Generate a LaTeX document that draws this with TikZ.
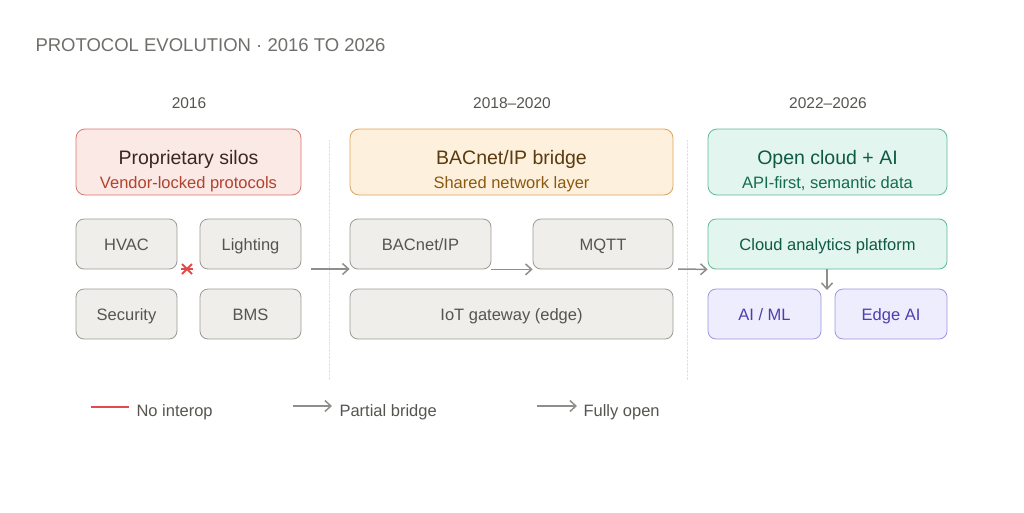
\documentclass[tikz,border=0pt]{standalone}
\usepackage{fontspec}
\setmainfont{Liberation Sans}
\usepackage{tikz}
\usetikzlibrary{positioning, calc, arrows.meta}

\definecolor{silofill}{HTML}{FBE9E6}
\definecolor{siloline}{HTML}{D9776E}
\definecolor{silotext}{HTML}{3B2622}
\definecolor{silosub}{HTML}{B0432E}
\definecolor{bridgefill}{HTML}{FDF0DC}
\definecolor{bridgeline}{HTML}{E0A35A}
\definecolor{bridgetext}{HTML}{5A3A0F}
\definecolor{bridgesub}{HTML}{8B5A12}
\definecolor{openfill}{HTML}{E2F5EE}
\definecolor{openline}{HTML}{5DBB94}
\definecolor{opentext}{HTML}{0E5A44}
\definecolor{opensub}{HTML}{146C50}
\definecolor{grayfill}{HTML}{EFEEEA}
\definecolor{grayline}{HTML}{9A9994}
\definecolor{graytext}{HTML}{555550}
\definecolor{aifill}{HTML}{EEEDFD}
\definecolor{ailine}{HTML}{9C95E0}
\definecolor{aitext}{HTML}{4B3FAF}
\definecolor{arrowgray}{HTML}{8E8E8A}
\definecolor{crossred}{HTML}{E24B4A}

\begin{document}
\begin{tikzpicture}[x=1pt, y=-1pt,
				HeadBox/.style={rectangle, rounded corners=9pt, thick, inner sep=0pt, align=center, minimum height=66pt},
				HeadText/.style={anchor=base, inner sep=0pt},
				PartBox/.style={rectangle, rounded corners=8pt, thick, draw=grayline, fill=grayfill, text=graytext, font=\fontsize{16.5}{20}\selectfont, minimum height=50pt, inner sep=0pt, text height=12pt, text depth=0pt},
				StepArrow/.style={arrowgray, line width=1.5pt, -{Straight Barb[length=6pt, width=11pt]}}]

			\useasboundingbox (0,0) rectangle (1024,512);

			% Title and years
			\node[anchor=west, text=graytext!85, font=\fontsize{18.5}{22}\selectfont] (Title) at (32,45) {PROTOCOL EVOLUTION · 2016 TO 2026};
			\node[text=graytext, font=\fontsize{15.5}{18}\selectfont] (YearA) at (189,103) {2016};
			\node[text=graytext, font=\fontsize{15.5}{18}\selectfont] (YearB) at (512,103) {2018–2020};
			\node[text=graytext, font=\fontsize{15.5}{18}\selectfont] (YearC) at (828,103) {2022–2026};

			% Dividers
			\draw[grayline!30, densely dotted] (329,140) -- (329,380);
			\draw[grayline!30, densely dotted] (687,140) -- (687,380);

			% Headers
			\node[HeadBox, draw=siloline, fill=silofill, minimum width=225pt] (Silos) at (188.5,162) {};
			\node[HeadBox, draw=bridgeline, fill=bridgefill, minimum width=323pt] (Bridge) at (511.5,162) {};
			\node[HeadBox, draw=openline, fill=openfill, minimum width=239pt] (Open) at (827.5,162) {};
			\node[HeadText, text=silotext, font=\fontsize{19.5}{22}\selectfont] (SilosTitle) at (188.5,164) {Proprietary silos};
			\node[HeadText, text=silosub, font=\fontsize{16.5}{18}\selectfont] (SilosSub) at (188.5,188) {Vendor-locked protocols};
			\node[HeadText, text=bridgetext, font=\fontsize{19.5}{22}\selectfont] (BridgeTitle) at (511.5,164) {BACnet/IP bridge};
			\node[HeadText, text=bridgesub, font=\fontsize{16.5}{18}\selectfont] (BridgeSub) at (511.5,188) {Shared network layer};
			\node[HeadText, text=opentext, font=\fontsize{19.5}{22}\selectfont] (OpenTitle) at (827.5,164) {Open cloud + AI};
			\node[HeadText, text=opensub, font=\fontsize{16.5}{18}\selectfont] (OpenSub) at (827.5,188) {API-first, semantic data};

			% Silo boxes
			\node[PartBox, minimum width=101pt] (HVAC) at (126.5,244) {HVAC};
			\node[PartBox, minimum width=101pt] (Lighting) at (250.5,244) {Lighting};
			\node[PartBox, minimum width=101pt] (Security) at (126.5,314) {Security};
			\node[PartBox, minimum width=101pt] (BMS) at (250.5,314) {BMS};

			% Bridge boxes
			\node[PartBox, minimum width=141pt] (BACnet) at (420.5,244) {BACnet/IP};
			\node[PartBox, minimum width=140pt] (MQTT) at (603,244) {MQTT};
			\node[PartBox, minimum width=323pt] (Gateway) at (511.5,314) {IoT gateway (edge)};

			% Open boxes
			\node[PartBox, draw=openline, fill=openfill, text=opentext, minimum width=239pt] (Cloud) at (827.5,244) {Cloud analytics platform};
			\node[PartBox, draw=ailine, fill=aifill, text=aitext, minimum width=113pt] (AIML) at (764.5,314) {AI / ML};
			\node[PartBox, draw=ailine, fill=aifill, text=aitext, minimum width=112pt] (EdgeAI) at (891,314) {Edge AI};

			% Arrows
			\coordinate (StepA) at (311,269);
			\coordinate (StepB) at (678,269);
			\draw[StepArrow] (StepA) -- (Bridge.west |- StepA);
			\draw[StepArrow] (BACnet.south east) -- (MQTT.south west);
			\draw[StepArrow] (StepB) -- (Cloud.south west);
			\draw[StepArrow] (Cloud.south -| 827,0) -- (827,290);

			% Broken link
			\coordinate (NoLink) at (187,269);
			\draw[crossred, line width=1.8pt] ($(NoLink)+(-5,-5)$) -- ($(NoLink)+(5,5)$);
			\draw[crossred, line width=1.8pt] ($(NoLink)+(-5,5)$) -- ($(NoLink)+(5,-5)$);
			\draw[crossred, line width=1.4pt] ($(NoLink)+(-6,0)$) -- ($(NoLink)+(6,0)$);

			% Legend
			\coordinate (LegA) at (91,407);
			\coordinate (LegB) at (293,406);
			\coordinate (LegC) at (537,406);
			\draw[crossred, line width=2pt] (LegA) -- ++(38,0) coordinate (LegAEnd);
			\node[anchor=west, text=graytext, font=\fontsize{16.5}{18}\selectfont] (NoInterop) [right=4pt of LegAEnd, yshift=-5pt] {No interop};
			\draw[StepArrow] (LegB) -- ++(39,0) coordinate (LegBEnd);
			\node[anchor=west, text=graytext, font=\fontsize{16.5}{18}\selectfont] (Partial) [right=4pt of LegBEnd, yshift=-6pt] {Partial bridge};
			\draw[StepArrow] (LegC) -- ++(40,0) coordinate (LegCEnd);
			\node[anchor=west, text=graytext, font=\fontsize{16.5}{18}\selectfont] (FullyOpen) [right=3pt of LegCEnd, yshift=-6pt] {Fully open};
		\end{tikzpicture}
\end{document}
